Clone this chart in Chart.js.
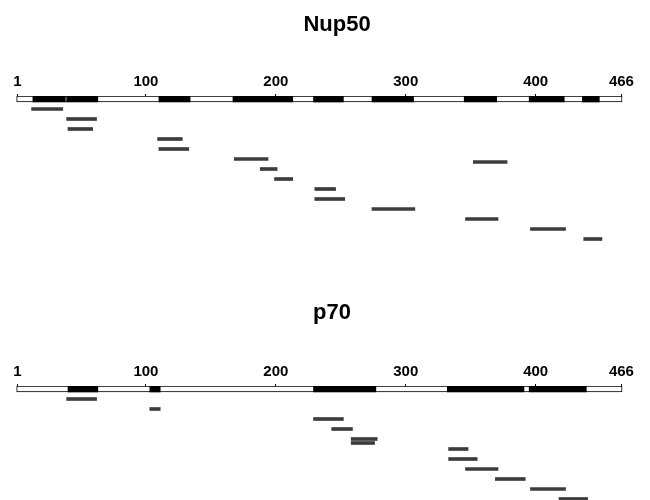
<!DOCTYPE html>
<html><head><meta charset="utf-8">
<script src="https://cdn.jsdelivr.net/npm/chart.js@4/dist/chart.umd.min.js"></script>
<style>
html,body{margin:0;padding:0;background:#fff;overflow:hidden;width:650px;height:500px;}
#c1{position:absolute;left:0;top:0;}
#c2{position:absolute;left:0;top:290px;}
</style></head><body>
<canvas id="c1" width="658" height="290"></canvas>
<canvas id="c2" width="648" height="210"></canvas>
<script>
const proteinLength = 466;
const residueTicks = [1, 100, 200, 300, 400, 466];

// Nup50: covered regions (black) on the sequence bar
const nup50CovStart = [13, 39, 110, 167, 229, 274, 345, 395, 436];
const nup50CovEnd   = [38, 63, 134, 213, 252, 306, 370, 422, 449];
// Nup50 peptides
const nup50PepStart = [12, 39, 40, 109, 110, 168, 352, 188, 199, 230, 230, 274, 346, 396, 437];
const nup50PepEnd   = [36, 62, 59, 128, 133, 194, 378, 201, 213, 246, 253, 307, 371, 423, 451];
const nup50PepRow   = [1, 2, 3, 4, 5, 6, 6.3, 7, 8, 9, 10, 11, 12, 13, 14];

// p70: covered regions
const p70CovStart = [40, 103, 229, 332, 395];
const p70CovEnd   = [63, 111, 277, 391, 439];
// p70 peptides
const p70PepStart = [39, 103, 229, 243, 258, 258, 333, 333, 346, 369, 396, 418];
const p70PepEnd   = [62, 111, 252, 259, 278, 276, 348, 355, 371, 392, 423, 440];
const p70PepRow   = [1, 2, 3, 4, 5, 5.4, 6, 7, 8, 9, 10, 11];

Chart.defaults.font.family = '"Liberation Sans", Arial, Helvetica, sans-serif';

function makeChart(id, title, covS, covE, pepS, pepE, pepRow, cfg) {
  const outline = [{ y: 0, x: [0.5, proteinLength + 0.5] }];
  const covered = covS.map((s, i) => ({ y: 0, x: [s, covE[i]] }));
  const peptides = pepS.map((s, i) => ({ y: pepRow[i], x: [s, pepE[i]] }));
  const titleH = cfg.titleTop + 22 * 1.2;
  return new Chart(document.getElementById(id), {
    type: 'bar',
    data: {
      datasets: [
        { data: peptides, backgroundColor: '#3c3c3c', borderWidth: 0, barThickness: 3, grouped: false, order: 1 },
        { data: covered, backgroundColor: '#000000', borderWidth: 0, barThickness: 6, grouped: false, order: 2 },
        { data: outline, backgroundColor: '#ffffff', borderColor: '#000000', borderWidth: 1, borderSkipped: false, barThickness: 6, grouped: false, order: 3 }
      ]
    },
    options: {
      indexAxis: 'y',
      responsive: false,
      animation: false,
      events: [],
      layout: { padding: { left: 16, right: 0, top: 0, bottom: cfg.padBottom } },
      plugins: {
        legend: { display: false },
        tooltip: { enabled: false },
        title: {
          display: true, text: title, color: '#000',
          font: { size: 22, weight: 'bold' },
          padding: { top: cfg.titleTop, bottom: 0 }
        }
      },
      scales: {
        x: {
          type: 'linear', position: 'top', min: 0, max: 468, offset: false,
          afterBuildTicks: (axis) => { axis.ticks = residueTicks.map(v => ({ value: v })); },
          afterFit: (s) => { s.height = 96 - titleH; },
          ticks: { color: '#000', font: { size: 15, weight: 'bold' }, padding: 3, maxRotation: 0, autoSkip: false,
                   callback: (v) => String(v) },
          grid: { drawOnChartArea: false, drawTicks: true, tickLength: 2, color: '#000', lineWidth: 1 },
          border: { display: false }
        },
        y: {
          type: 'linear', position: 'right', reverse: true, min: -0.3, max: cfg.yMax, offset: false,
          afterFit: (s) => { s.width = cfg.rightW; },
          ticks: { display: false },
          grid: { display: false },
          border: { display: false }
        }
      }
    }
  });
}

makeChart('c1', 'Nup50', nup50CovStart, nup50CovEnd, nup50PepStart, nup50PepEnd, nup50PepRow,
  { titleTop: 12, rightW: 34, yMax: 15, padBottom: 41 });
makeChart('c2', 'p70', p70CovStart, p70CovEnd, p70PepStart, p70PepEnd, p70PepRow,
  { titleTop: 10, rightW: 24, yMax: 11.1, padBottom: 0 });
</script>
</body></html>
